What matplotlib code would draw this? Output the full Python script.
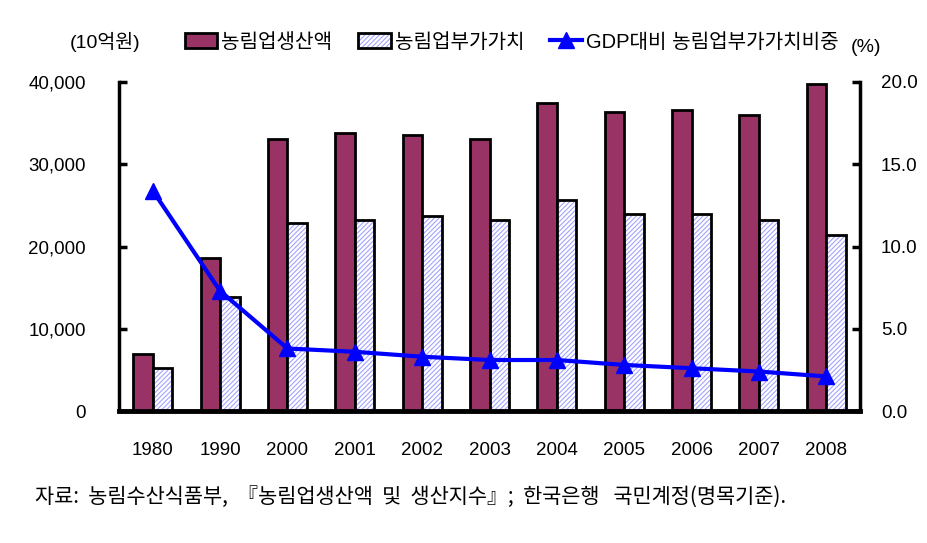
import matplotlib
matplotlib.use("Agg")
import matplotlib.pyplot as plt
import numpy as np
from matplotlib.patches import Patch
from matplotlib.lines import Line2D

plt.rcParams['font.family'] = ['Liberation Sans', 'Noto Sans CJK KR', 'DejaVu Sans']
plt.rcParams['hatch.linewidth'] = 0.8

years = ['1980', '1990', '2000', '2001', '2002', '2003', '2004', '2005', '2006', '2007', '2008']
production = [6900, 18600, 33100, 33800, 33600, 33100, 37400, 36400, 36600, 36000, 39800]
value_added = [5200, 13900, 22900, 23200, 23700, 23200, 25600, 23900, 23900, 23200, 21400]
gdp_share = [13.4, 7.3, 3.8, 3.6, 3.3, 3.1, 3.1, 2.8, 2.6, 2.4, 2.1]

label_prod = '농림업생산액'
label_va = '농림업부가가치'
label_share = 'GDP대비 농림업부가가치비중'
left_unit = '(10억원)'
right_unit = '(%)'
source = '자료:  농림수산식품부,  『농림업생산액  및  생산지수』;  한국은행   국민계정(명목기준).'

prod_color = '#993366'
hatch_color = '#A3A3FF'
line_color = '#0000FF'

fig = plt.figure(figsize=(9.28, 5.43), dpi=100)
ax = fig.add_axes([119/928, 1 - 411/543, (860-119)/928, (411-82)/543])
ax2 = ax.twinx()

x = np.arange(len(years))
w = 0.29
ax.bar(x - w/2, production, w, color=prod_color, edgecolor='black', linewidth=2, zorder=2)
ax.bar(x + w/2, value_added, w, color='white', edgecolor=hatch_color, hatch='///////', linewidth=0, zorder=2)
ax.bar(x + w/2, value_added, w, fill=False, edgecolor='black', linewidth=2, zorder=3)

ax2.plot(x, gdp_share, color=line_color, linewidth=3, marker='^', markersize=11, zorder=5)

ax.set_xlim(-0.5, len(years) - 0.5)
ax.set_ylim(0, 40000)
ax2.set_ylim(0, 20)
ax.set_yticks([0, 10000, 20000, 30000, 40000])
ax.set_yticklabels(['0', '10,000', '20,000', '30,000', '40,000'])
ax2.set_yticks([0, 5, 10, 15, 20])
ax2.set_yticklabels(['0.0', '5.0', '10.0', '15.0', '20.0'])
ax.set_xticks(x)
ax.set_xticklabels(years)

for a in (ax, ax2):
    a.spines['top'].set_visible(False)
    a.spines['left'].set_linewidth(2.5)
    a.spines['right'].set_linewidth(2.5)
    a.spines['bottom'].set_linewidth(3.5)
ax.spines['right'].set_visible(False)
ax2.spines['left'].set_visible(False)
ax2.spines['bottom'].set_visible(False)

ax.tick_params(axis='y', direction='in', length=6, width=2.5, labelsize=13.5, pad=24)
ax2.tick_params(axis='y', direction='in', length=6, width=2.5, labelsize=13.5, pad=15)
ax.tick_params(axis='x', length=0, labelsize=13.5, pad=22)
ax2.set_zorder(ax.get_zorder() + 1)

fig.text(105/928, 1 - 42/543, left_unit, ha='center', va='center', fontsize=14)
fig.text(866/928, 1 - 47/543, right_unit, ha='center', va='center', fontsize=14)

handles = [
    Patch(facecolor=prod_color, edgecolor='black', linewidth=2),
    (Patch(facecolor='white', edgecolor=hatch_color, hatch='///////', linewidth=0),
     Patch(fill=False, edgecolor='black', linewidth=2)),
    Line2D([0], [0], color=line_color, linewidth=3, marker='^', markersize=11),
]
leg = fig.legend(handles, [label_prod, label_va, label_share], loc='center',
                 bbox_to_anchor=(512/928, 1 - 42/543), ncol=3, frameon=False,
                 fontsize=14.5, handlelength=1.6, handletextpad=0.2, columnspacing=1.3)

fig.text(35/928, 1 - 497/543, source, ha='left', va='center', fontsize=15,
         family=['Noto Sans CJK KR', 'DejaVu Sans'])

fig.savefig('out.png', dpi=100)
